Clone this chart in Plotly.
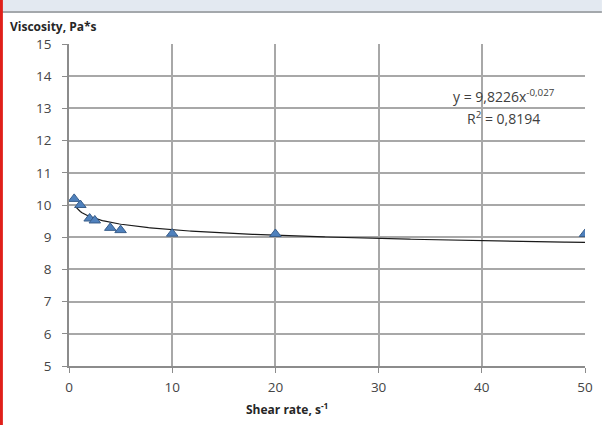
import numpy as np
import plotly.graph_objects as go

shear_rate = [0.5, 1.1, 2.0, 2.5, 4.0, 5.0, 10, 20, 50]
viscosity = [10.19, 10.0, 9.58, 9.52, 9.29, 9.22, 9.11, 9.10, 9.10]
fit_a = 9.8226
fit_b = -0.027
x_ticks = [0, 10, 20, 30, 40, 50]
y_ticks = [5, 6, 7, 8, 9, 10, 11, 12, 13, 14, 15]

xf = np.linspace(0.6, 50, 300)
yf = fit_a * xf ** fit_b

FONT = "Open Sans"
fig = go.Figure()
fig.add_trace(go.Scatter(x=xf, y=yf, mode="lines",
                         line=dict(color="#1a1a1a", width=1.2), hoverinfo="skip"))
fig.add_trace(go.Scatter(x=shear_rate, y=viscosity, mode="markers",
                         marker=dict(symbol="triangle-up", size=10, color="#4f81bd",
                                     line=dict(color="#385d8a", width=1))))

fig.update_layout(
    width=605, height=425,
    margin=dict(l=69, r=17, t=44, b=59),
    paper_bgcolor="white", plot_bgcolor="white",
    showlegend=False,
    font=dict(family=FONT, size=12, color="#595959"),
)
axis_common = dict(showgrid=True, gridcolor="#a8a8a8", gridwidth=1.6, showline=True,
                   linecolor="#8c8c8c", linewidth=1.6, ticks="outside", ticklen=5,
                   tickcolor="#8c8c8c", tickwidth=1.4, zeroline=False,
                   tickfont=dict(family=FONT, size=13.5, color="#454545"))
fig.update_xaxes(range=[0, 50], tickvals=x_ticks, ticklabelstandoff=3, **axis_common)
fig.update_yaxes(range=[5, 15], tickvals=y_ticks, ticklabelstandoff=8, **axis_common)

W, H = 519, 322
shapes_extra = [
    dict(type="rect", xref="paper", yref="paper",
         x0=-69 / W, x1=(605 - 69) / W,
         y0=(366 - 11) / H, y1=(366 + 2) / H,
         fillcolor="#e3e9f1", line_width=0, layer="above"),
    dict(type="line", xref="paper", yref="paper",
         x0=-69 / W, x1=(605 - 69) / W,
         y0=(366 - 12) / H, y1=(366 - 12) / H,
         line=dict(color="#a4a8ac", width=2), layer="above"),
    dict(type="line", xref="paper", yref="paper",
         x0=(-69 + 1) / W, x1=(-69 + 1) / W,
         y0=-62 / H, y1=(366 + 2) / H,
         line=dict(color="#e0201a", width=3), layer="above"),
]
for s in shapes_extra:
    fig.add_shape(**s)

fig.add_annotation(xref="paper", yref="paper", x=-61 / W, y=(366 - 27) / H,
                   text="<b>Viscosity, Pa*s</b>", showarrow=False, xanchor="left",
                   yanchor="middle", font=dict(family=FONT, size=12, color="#262626"))
fig.add_annotation(xref="paper", yref="paper", x=(288 - 69) / W, y=(366 - 409) / H,
                   text="<b>Shear rate, s<sup>-1</sup></b>", showarrow=False,
                   xanchor="center", yanchor="middle",
                   font=dict(family=FONT, size=12, color="#262626"))
fig.add_annotation(xref="paper", yref="paper", x=(507 - 69) / W, y=(366 - 96) / H,
                   text="y = 9,8226x<sup>-0,027</sup>", showarrow=False,
                   xanchor="center", yanchor="middle",
                   font=dict(family=FONT, size=14, color="#404040"))
fig.add_annotation(xref="paper", yref="paper", x=(506 - 69) / W, y=(366 - 118) / H,
                   text="R<sup>2</sup> = 0,8194", showarrow=False,
                   xanchor="center", yanchor="middle",
                   font=dict(family=FONT, size=14, color="#404040"))

fig.write_html("out.html", config={"displayModeBar": False},
               post_script="document.body.style.margin='0';")
